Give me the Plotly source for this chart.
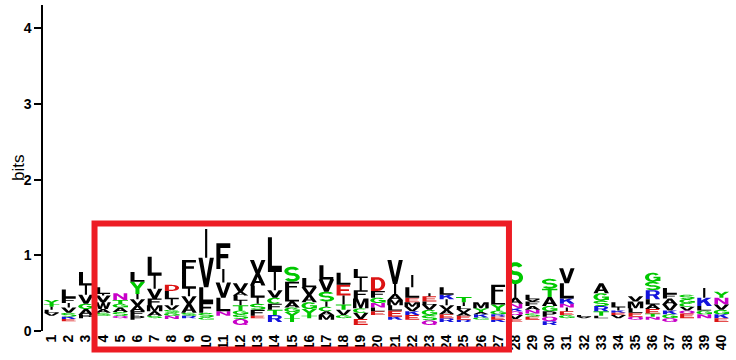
import numpy as np
import plotly.graph_objects as go

# ---- data: information content per alignment column ----
positions = list(range(1, 41))
tick_labels = [str(p) for p in positions]

# total stack height (bits) per column
stack_bits = [0.41, 0.55, 0.78, 0.58, 0.50, 0.78, 0.98, 0.61, 0.94, 1.35,
              1.16, 0.63, 0.94, 1.24, 0.85, 0.70, 0.87, 0.77, 0.82, 0.71,
              0.94, 0.74, 0.50, 0.58, 0.45, 0.38, 0.61, 0.91, 0.48, 0.69,
              0.83, 0.21, 0.63, 0.38, 0.46, 0.77, 0.57, 0.48, 0.57, 0.52]

# visible residues per column, bottom -> top
residues = ["VLITY", "EKSVIFL", "PAGVIL", "SAWVIL", "QSAGTN", "PFAVIYL", "SAMFVIL",
            "NGSVILD", "RSAVILF", "GSFLVI", "NLVIF", "QSGTILAV", "EFSILAV", "RTFCVIL",
            "TYGALFS", "TYGAVL", "MACISVL", "GVTIEL", "EVCMFIL", "ELNGFD", "KELMAIV",
            "EKVMELI", "QSGVLEI", "REAVIKL", "REAVLIT", "GKAYM", "KERGYLF", "EVQKNAIS",
            "ESNAFVL", "RQPGATS", "GEINKLV", "VL", "LTRSGA", "VEKIL", "QELMV",
            "NTEALRSG", "QGKVAFL", "EQVCGS", "NGLKI", "EKGVNY"]

# letter heights (bits), same order as residues
heights = [
    [0.04, 0.04, 0.04, 0.03, 0.06],
    [0.03, 0.03, 0.05, 0.07, 0.06, 0.07, 0.11],
    [0.04, 0.08, 0.07, 0.12, 0.12, 0.18],
    [0.04, 0.05, 0.09, 0.09, 0.02, 0.09],
    [0.03, 0.05, 0.06, 0.05, 0.05, 0.09],
    [0.05, 0.06, 0.08, 0.08, 0.07, 0.16, 0.13],
    [0.03, 0.06, 0.08, 0.09, 0.13, 0.17, 0.25],
    [0.04, 0.04, 0.04, 0.06, 0.08, 0.11, 0.08],
    [0.03, 0.04, 0.12, 0.10, 0.10, 0.18, 0.20],
    [0.03, 0.06, 0.14, 0.20, 0.39, 0.38],
    [0.06, 0.18, 0.20, 0.18, 0.34],
    [0.08, 0.06, 0.05, 0.07, 0.06, 0.07, 0.05, 0.11],
    [0.03, 0.08, 0.08, 0.08, 0.16, 0.16, 0.18],
    [0.09, 0.07, 0.08, 0.08, 0.10, 0.24, 0.46],
    [0.05, 0.08, 0.06, 0.08, 0.13, 0.13, 0.20],
    [0.03, 0.09, 0.09, 0.10, 0.10, 0.12],
    [0.06, 0.05, 0.06, 0.07, 0.13, 0.16, 0.19],
    [0.04, 0.07, 0.07, 0.12, 0.14, 0.16],
    [0.08, 0.08, 0.06, 0.13, 0.11, 0.16, 0.12],
    [0.05, 0.05, 0.06, 0.07, 0.09, 0.18],
    [0.04, 0.08, 0.07, 0.07, 0.08, 0.13, 0.32],
    [0.06, 0.05, 0.06, 0.06, 0.06, 0.14, 0.16],
    [0.06, 0.07, 0.07, 0.07, 0.04, 0.07, 0.04],
    [0.05, 0.05, 0.06, 0.06, 0.08, 0.06, 0.10],
    [0.03, 0.05, 0.04, 0.05, 0.04, 0.05, 0.07],
    [0.03, 0.04, 0.03, 0.05, 0.08],
    [0.03, 0.04, 0.03, 0.05, 0.08, 0.11, 0.15],
    [0.04, 0.05, 0.05, 0.04, 0.06, 0.08, 0.18, 0.29],
    [0.04, 0.04, 0.05, 0.05, 0.06, 0.03, 0.06],
    [0.05, 0.06, 0.07, 0.07, 0.12, 0.11, 0.13],
    [0.04, 0.05, 0.05, 0.05, 0.07, 0.20, 0.20],
    [0.02, 0.02],
    [0.03, 0.06, 0.07, 0.07, 0.10, 0.13],
    [0.04, 0.03, 0.03, 0.04, 0.07],
    [0.04, 0.05, 0.06, 0.09, 0.07],
    [0.04, 0.04, 0.06, 0.06, 0.07, 0.12, 0.11, 0.12],
    [0.05, 0.05, 0.05, 0.08, 0.08, 0.06, 0.08],
    [0.06, 0.04, 0.05, 0.05, 0.05, 0.06],
    [0.05, 0.05, 0.06, 0.11, 0.13],
    [0.05, 0.05, 0.06, 0.07, 0.09, 0.08],
]

# highlighted column block (positions, bits)
highlight_cols = [3.5, 27.63]
highlight_bits = [-0.244, 1.42]

# ---- residue colour scheme (chemistry) ----
residue_colors = {
    "#00C800": "GSTYC",
    "#C800C8": "NQ",
    "#1414DC": "KRH",
    "#DC1414": "DE",
    "#000000": "PAWFLIMV",
}
color_of = {aa: c for c, group in residue_colors.items() for aa in group}


# ---- block glyph outlines in a unit box ----
def rect(x0, y0, x1, y1):
    return [(x0, y0), (x1, y0), (x1, y1), (x0, y1)]


def arc(cx, cy, rx, ry, a0, a1, n=28):
    t = np.radians(np.linspace(a0, a1, n))
    return list(zip(cx + rx * np.cos(t), cy + ry * np.sin(t)))


def area(poly):
    s = 0.0
    for (x0, y0), (x1, y1) in zip(poly, poly[1:] + poly[:1]):
        s += x0 * y1 - x1 * y0
    return 0.5 * s


def orient(poly, hole=False):
    a = area(poly)
    if (a > 0) == hole:
        return poly[::-1]
    return poly


def open_ring(a0, a1):
    return arc(0.5, 0.5, 0.5, 0.5, a0, a1) + arc(0.5, 0.5, 0.24, 0.32, a1, a0)


def glyph_S():
    hx, hy, rx, ry = 0.13, 0.09, 0.37, 0.205
    tu = np.radians(np.linspace(25, 270, 30))
    tl = np.radians(np.linspace(90, -155, 30))
    left = ([(0.5 + (rx + hx) * np.cos(t), 0.705 + (ry + hy) * np.sin(t)) for t in tu]
            + [(0.5 + (rx - hx) * np.cos(t), 0.295 + (ry - hy) * np.sin(t)) for t in tl])
    right = ([(0.5 + (rx - hx) * np.cos(t), 0.705 + (ry - hy) * np.sin(t)) for t in tu]
             + [(0.5 + (rx + hx) * np.cos(t), 0.295 + (ry + hy) * np.sin(t)) for t in tl])
    return left + right[::-1]


stem = rect(0.05, 0, 0.31, 1)
p_outer = [(0.05, 0), (0.31, 0), (0.31, 0.38), (0.58, 0.38)] + arc(0.58, 0.69, 0.37, 0.31, -90, 90) + [(0.05, 1)]
p_hole = [(0.31, 0.54)] + arc(0.58, 0.69, 0.13, 0.15, -90, 90) + [(0.31, 0.84)]

GLYPHS = {
    "A": [([(0, 0), (0.26, 0), (0.33, 0.22), (0.67, 0.22), (0.74, 0), (1, 0), (0.63, 1), (0.37, 1)], False),
          ([(0.39, 0.38), (0.61, 0.38), (0.5, 0.74)], True)],
    "C": [(open_ring(45, 315), False)],
    "D": [([(0.05, 0), (0.5, 0)] + arc(0.5, 0.5, 0.47, 0.5, -90, 90) + [(0.05, 1)], False),
          ([(0.31, 0.18)] + arc(0.5, 0.5, 0.22, 0.32, -90, 90) + [(0.31, 0.82)], True)],
    "E": [(stem, False), (rect(0.05, 0, 0.95, 0.18), False),
          (rect(0.05, 0.42, 0.85, 0.58), False), (rect(0.05, 0.82, 0.92, 1), False)],
    "F": [(stem, False), (rect(0.05, 0.42, 0.82, 0.58), False), (rect(0.05, 0.82, 0.95, 1), False)],
    "G": [(open_ring(40, 330), False), (rect(0.55, 0.4, 1.0, 0.56), False),
          (rect(0.76, 0.1, 1.0, 0.56), False)],
    "H": [(stem, False), (rect(0.69, 0, 0.95, 1), False), (rect(0.05, 0.42, 0.95, 0.58), False)],
    "I": [(rect(0.43, 0, 0.57, 1), False)],
    "K": [(stem, False), ([(0.31, 0.34), (0.97, 1.0), (0.64, 1.0), (0.31, 0.66)], False),
          ([(0.45, 0.52), (0.68, 0), (1.0, 0), (0.66, 0.72)], False)],
    "L": [(stem, False), (rect(0.05, 0, 0.95, 0.18), False)],
    "M": [([(0, 0), (0.22, 0), (0.22, 0.72), (0.42, 0), (0.58, 0), (0.78, 0.72), (0.78, 0), (1, 0),
            (1, 1), (0.68, 1), (0.5, 0.32), (0.32, 1), (0, 1)], False)],
    "N": [([(0.05, 0), (0.28, 0), (0.28, 0.65), (0.7, 0), (0.95, 0), (0.95, 1), (0.72, 1),
            (0.72, 0.35), (0.3, 1), (0.05, 1)], False)],
    "P": [(p_outer, False), (p_hole, True)],
    "Q": [(arc(0.5, 0.5, 0.5, 0.5, 0, 360, 48), False), (arc(0.5, 0.5, 0.24, 0.32, 0, 360, 48), True),
          ([(0.55, 0.28), (0.8, 0), (1.0, 0), (0.72, 0.34)], False)],
    "R": [(p_outer, False), (p_hole, True), ([(0.5, 0.4), (0.7, 0), (0.98, 0), (0.76, 0.44)], False)],
    "S": [(glyph_S(), False)],
    "T": [(rect(0, 0.82, 1, 1), False), (rect(0.37, 0, 0.63, 0.82), False)],
    "V": [([(0, 1), (0.36, 0), (0.64, 0), (1, 1), (0.74, 1), (0.5, 0.28), (0.26, 1)], False)],
    "W": [([(0, 1), (0.2, 0), (0.4, 0), (0.5, 0.6), (0.6, 0), (0.8, 0), (1, 1), (0.8, 1), (0.69, 0.35),
            (0.58, 1), (0.42, 1), (0.31, 0.35), (0.2, 1)], False)],
    "Y": [([(0.37, 0), (0.63, 0), (0.63, 0.42), (1, 1), (0.72, 1), (0.5, 0.63), (0.28, 1), (0, 1),
            (0.37, 0.42)], False)],
}
GLYPHS = {k: [(orient(p, h), h) for p, h in v] for k, v in GLYPHS.items()}

# ---- stack the letters of every column ----
col_width = 0.9
paths = {c: ([], []) for c in residue_colors}
for pos, total, letters, hs in zip(positions, stack_bits, residues, heights):
    y0 = total - sum(hs)          # mass of residues too small to draw
    for aa, h in zip(letters, hs):
        xs, ys = paths[color_of[aa]]
        for poly, _ in GLYPHS[aa]:
            for gx, gy in poly:
                xs.append(pos - col_width / 2 + gx * col_width)
                ys.append(y0 + gy * h)
            xs.append(None)
            ys.append(None)
        y0 += h

fig = go.Figure()
for color, (xs, ys) in paths.items():
    fig.add_trace(go.Scatter(
        x=xs, y=ys, mode="lines", fill="toself", fillcolor=color,
        line=dict(width=0, color=color, simplify=False),
        hoverinfo="skip", showlegend=False,
    ))

x_range = [0.5, 40.5]
y_range = [0, 4.31]


def to_paper(v, r):
    return (v - r[0]) / (r[1] - r[0])


fig.add_shape(
    type="rect", xref="paper", yref="paper",
    x0=to_paper(highlight_cols[0], x_range), x1=to_paper(highlight_cols[1], x_range),
    y0=to_paper(highlight_bits[0], y_range), y1=to_paper(highlight_bits[1], y_range),
    line=dict(color="#ED1C24", width=6), fillcolor="rgba(0,0,0,0)", layer="above",
)

FAMILY = "Liberation Sans, Arial, sans-serif"
fig.update_layout(
    width=736, height=360,
    margin=dict(l=43, r=6, t=5, b=29),
    paper_bgcolor="white", plot_bgcolor="white",
    xaxis=dict(range=x_range, tickmode="array", tickvals=positions, ticktext=tick_labels,
               tickangle=-90, tickfont=dict(family=FAMILY, size=14, color="black", weight="bold"),
               showline=False, ticks="", showgrid=False, zeroline=False, fixedrange=True),
    yaxis=dict(range=y_range, tickmode="array", tickvals=[0, 1, 2, 3, 4],
               ticks="outside", ticklen=7, tickwidth=1.5, tickcolor="black",
               showline=True, linewidth=1.5, linecolor="black",
               tickfont=dict(family=FAMILY, size=14, color="black", weight="bold"),
               showgrid=False, zeroline=False, fixedrange=True),
    annotations=[dict(text="bits", xref="paper", yref="paper", x=-25 / 687, y=0.5,
                      textangle=-90, showarrow=False, xanchor="center", yanchor="middle",
                      font=dict(family=FAMILY, size=17, color="black"))],
)

fig.write_html("out.html")
